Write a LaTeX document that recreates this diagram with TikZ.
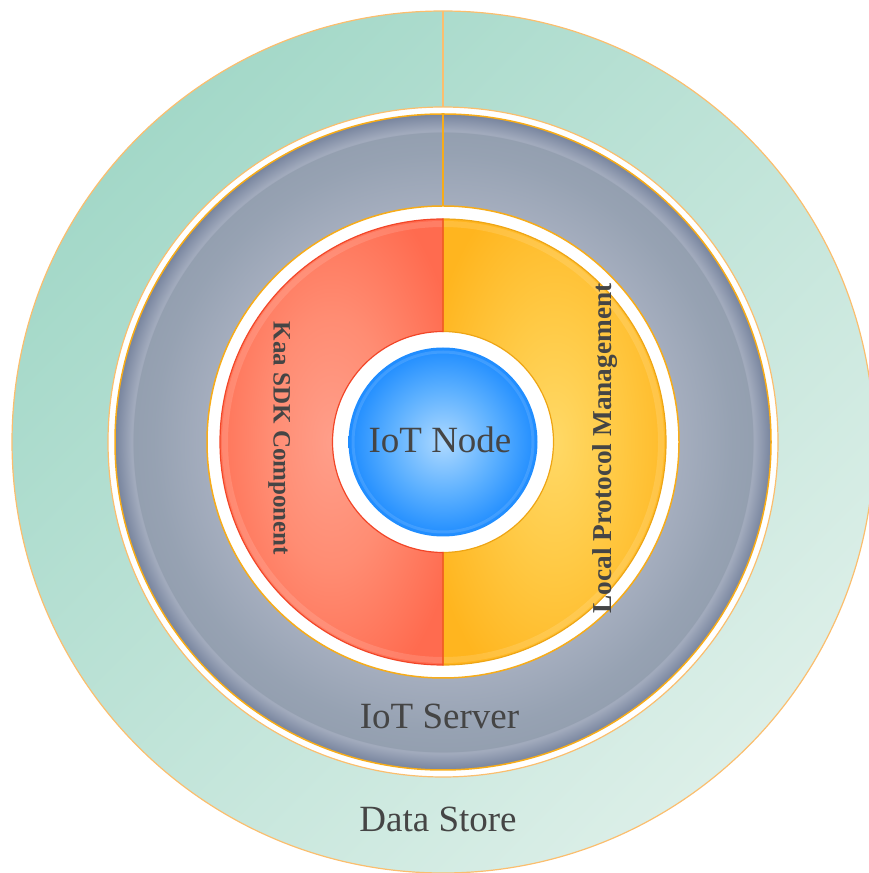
\documentclass[tikz,border=0pt]{standalone}
\usepackage{fontspec}
\setmainfont{Liberation Serif}
\definecolor{greenA}{RGB}{163,216,200}
\definecolor{greenB}{RGB}{220,239,232}
\definecolor{greenline}{RGB}{251,190,110}
\definecolor{grayline}{RGB}{247,172,25}
\definecolor{redline}{RGB}{242,70,40}
\definecolor{yelline}{RGB}{238,165,20}
\definecolor{txt}{RGB}{69,69,69}
\pgfdeclareradialshading{grayring}{\pgfpoint{0bp}{0bp}}{rgb(0bp)=(0.67,0.71,0.77); rgb(18bp)=(0.645,0.68,0.745); rgb(22bp)=(0.59,0.635,0.70); rgb(23.6bp)=(0.58,0.625,0.69); rgb(23.68bp)=(0.64,0.675,0.745); rgb(25bp)=(0.47,0.52,0.62); rgb(50bp)=(0.47,0.52,0.62)}
\pgfdeclareradialshading{redshade}{\pgfpoint{0bp}{0bp}}{rgb(0bp)=(1,0.62,0.54); rgb(14bp)=(1,0.55,0.45); rgb(30bp)=(1,0.42,0.31); rgb(50bp)=(1,0.42,0.31)}
\pgfdeclareradialshading{yelshade}{\pgfpoint{0bp}{0bp}}{rgb(0bp)=(1,0.85,0.40); rgb(14bp)=(1,0.79,0.27); rgb(30bp)=(1,0.71,0.12); rgb(50bp)=(1,0.71,0.12)}
\pgfdeclareradialshading{blueshade}{\pgfpoint{0bp}{0bp}}{rgb(0bp)=(0.68,0.85,1); rgb(14bp)=(0.36,0.69,1); rgb(25bp)=(0.12,0.55,1); rgb(50bp)=(0.12,0.55,1)}
\tikzset{
  lbl/.style={text=txt, inner sep=0pt, font=\fontsize{37}{37}\selectfont, anchor=base},
  sidelbl/.style={text=txt, inner sep=0pt, anchor=base},
}
\begin{document}
\begin{tikzpicture}[x=1pt,y=1pt]
\useasboundingbox (0,0) rectangle (869,873);
\clip (0,0) rectangle (869,873);
\coordinate (C) at (443,431);
% data store ring
\shade[top color=greenA, bottom color=greenB, shading angle=45, even odd rule]
  (C) circle[radius=431] (C) circle[radius=335];
\draw[greenline, line width=1.2] (C) circle[radius=431] (C) circle[radius=335];
\draw[greenline, line width=1.2] (C) ++(0,335) -- ++(0,96);
% server ring
\shade[shading=grayring, even odd rule] (C) circle[radius=328] (C) circle[radius=236];
\draw[grayline, line width=1.5] (C) circle[radius=328] (C) circle[radius=236];
\draw[grayline, line width=1.5] (C) ++(0,236) -- ++(0,92);
% halves
\shade[shading=yelshade] (443,654) arc[start angle=90,end angle=-90,radius=223]
  -- (443,320.5) arc[start angle=-90,end angle=90,radius=110.5] -- cycle;
\shade[shading=redshade] (443,654) arc[start angle=90,end angle=270,radius=223]
  -- (443,320.5) arc[start angle=270,end angle=90,radius=110.5] -- cycle;
\draw[white, opacity=0.13, line width=6] (C) circle[radius=218];
\draw[yelline, line width=1.2] (443,654) arc[start angle=90,end angle=-90,radius=223]
  -- (443,320.5) arc[start angle=-90,end angle=90,radius=110.5] -- cycle;
\draw[redline, line width=1.2] (443,654) arc[start angle=90,end angle=270,radius=223]
  -- (443,320.5) arc[start angle=270,end angle=90,radius=110.5] -- cycle;
% node
\shade[shading=blueshade] (C) circle[radius=94.5];
\draw[white, opacity=0.12, line width=3] (C) circle[radius=90];
% labels
\node[lbl] (node) at (440,420) {IoT Node};
\node[lbl] (server) at (439.5,144) {IoT Server};
\node[lbl] (store) at (438,41) {Data Store};
\node[sidelbl, rotate=-90, font=\fontsize{25}{25}\selectfont\bfseries] (kaa) at (273.5,434.5) {Kaa SDK Component};
\node[sidelbl, rotate=90, font=\fontsize{27.3}{27.3}\selectfont\bfseries] (lpm) at (611.5,424.5) {Local Protocol Management};
\end{tikzpicture}
\end{document}
